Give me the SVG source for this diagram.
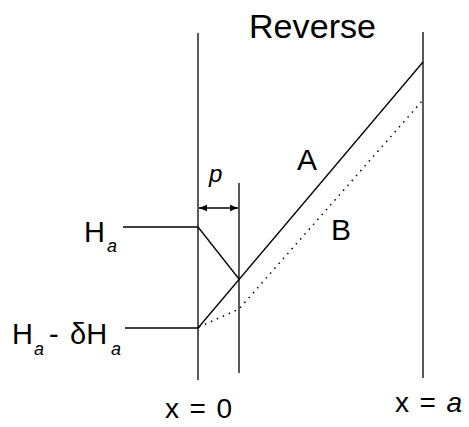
<svg xmlns="http://www.w3.org/2000/svg" width="469" height="427" viewBox="0 0 469 427">
<style>
.ln{stroke:#000;stroke-width:1.3;fill:none}
.dot{stroke:#000;stroke-width:1.5;fill:none;stroke-dasharray:1.5 5}
.t{font-family:"Liberation Sans",Arial,sans-serif;fill:#000}
.i{font-style:italic}
</style>
<defs>
<marker id="ah" viewBox="0 0 10 10" refX="10" refY="5" markerWidth="10" markerHeight="8" markerUnits="userSpaceOnUse" orient="auto-start-reverse">
<path d="M0,1 L10,5 L0,9 Z" fill="#000"/>
</marker>
</defs>
<g id="connectors">
<line class="ln" x1="198" y1="33" x2="198" y2="380"/>
<line class="ln" x1="239" y1="183" x2="239" y2="373"/>
<line class="ln" x1="423" y1="32" x2="423" y2="378"/>
<line class="ln" x1="123" y1="227" x2="198" y2="227"/>
<line class="ln" x1="125" y1="328" x2="198" y2="328"/>
<line class="ln" x1="198" y1="227" x2="239" y2="279"/>
<line class="ln" x1="198" y1="328" x2="423" y2="62"/>
<polyline class="dot" points="199,327 239,309 423,100"/>
<line class="ln" x1="199" y1="208" x2="238" y2="208" marker-start="url(#ah)" marker-end="url(#ah)"/>
</g>
<g id="labels">
<text class="t" x="249" y="38" font-size="34" textLength="127">Reverse</text>
<text class="t" x="297" y="170" font-size="30">A</text>
<text class="t" x="331" y="240" font-size="30">B</text>
<text class="t i" x="209" y="182" font-size="24">p</text>
<text class="t" x="84" y="242" font-size="29">H</text>
<text class="t i" x="107" y="252" font-size="18">a</text>
<text class="t" x="12" y="344" font-size="29">H</text>
<text class="t i" x="34" y="355" font-size="18">a</text>
<text class="t" x="49" y="344" font-size="29">-</text>
<text class="t" x="70" y="344" font-size="29">δH</text>
<text class="t i" x="111" y="355" font-size="18">a</text>
<text class="t" x="165" y="418" font-size="28" textLength="67">x = 0</text>
<text class="t" x="395" y="412" font-size="28" textLength="67">x = <tspan class="i">a</tspan></text>
</g>
</svg>
